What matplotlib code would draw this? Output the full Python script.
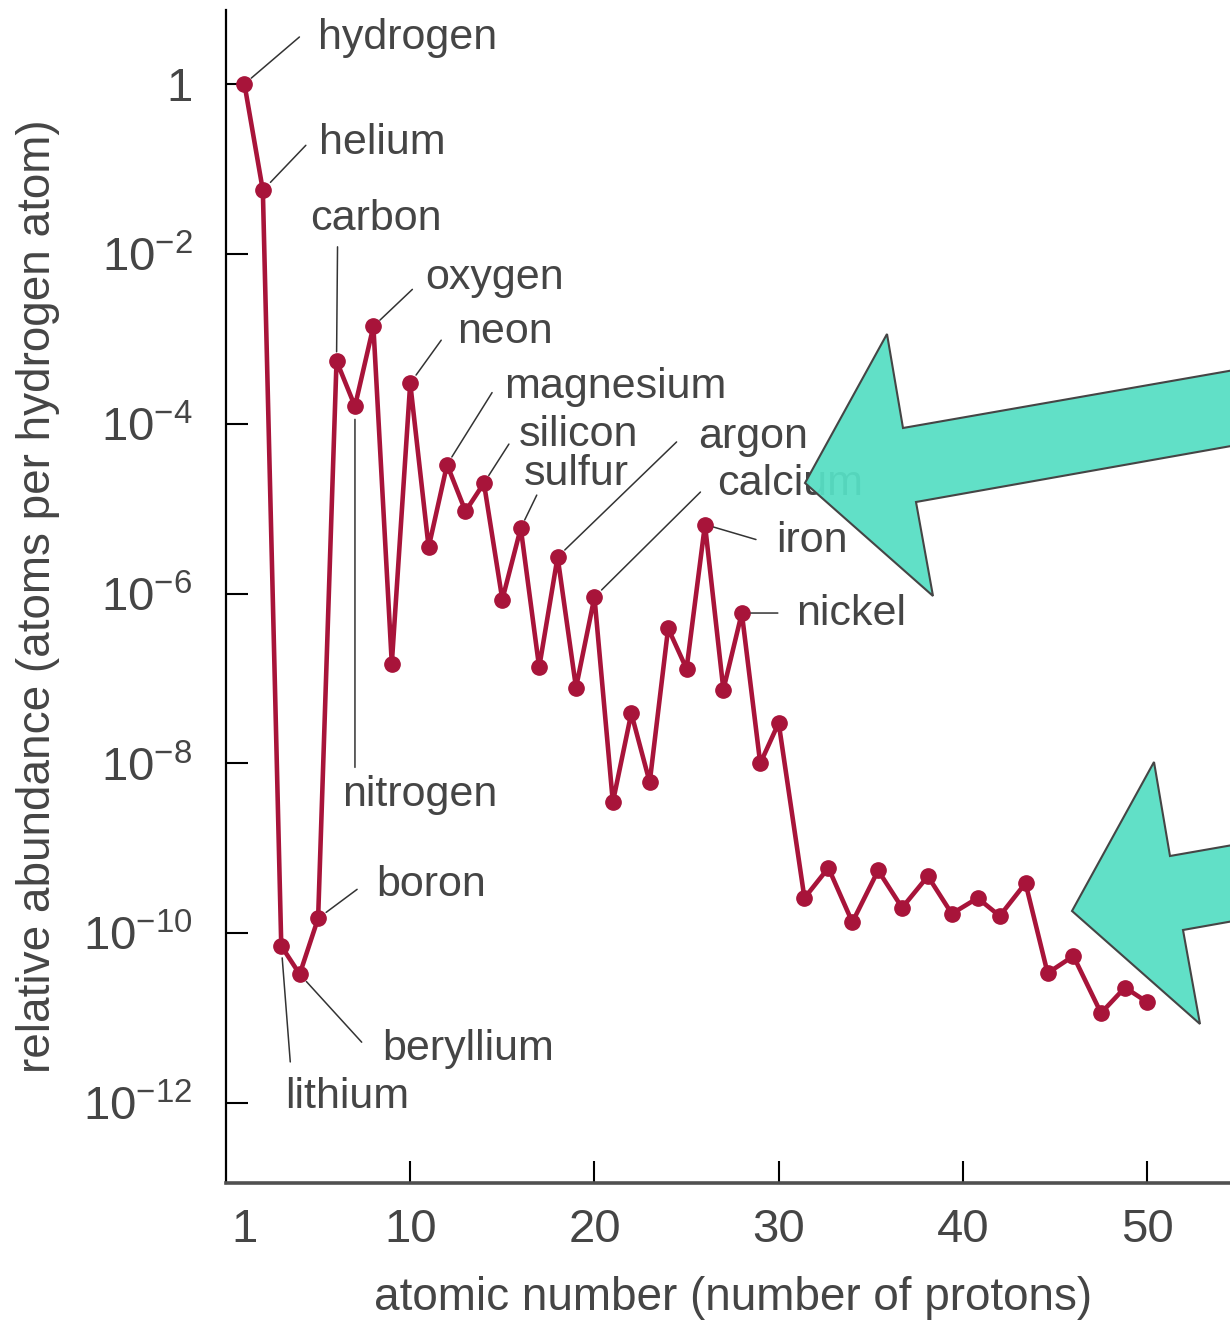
import matplotlib
matplotlib.use('Agg')
import matplotlib.pyplot as plt
from matplotlib.patches import Polygon
from matplotlib.ticker import NullLocator

plt.rcParams['font.family'] = ['Liberation Sans', 'DejaVu Sans']

# atomic number of each plotted point (past zinc the original spreads them out)
atomic_number = [1, 2, 3, 4, 5, 6, 7, 8, 9, 10,
                 11, 12, 13, 14, 15, 16, 17, 18, 19, 20,
                 21, 22, 23, 24, 25, 26, 27, 28, 29, 30,
                 31.4, 32.7, 34.0, 35.4, 36.7, 38.1, 39.4, 40.8,
                 42.0, 43.4, 44.6, 46.0, 47.5, 48.8, 50.0]

# relative abundance (atoms per hydrogen atom)
abundance = [1.0, 5.6e-2, 7.1e-11, 3.3e-11, 1.5e-10, 5.5e-4, 1.6e-4, 1.4e-3, 1.5e-7, 3.0e-4,
             3.5e-6, 3.3e-5, 9.3e-6, 2.0e-5, 8.5e-7, 5.9e-6, 1.35e-7, 2.7e-6, 7.8e-8, 9.1e-7,
             3.5e-9, 3.9e-8, 6.0e-9, 3.9e-7, 1.3e-7, 6.5e-6, 7.4e-8, 5.9e-7, 1.0e-8, 3.0e-8,
             2.6e-10, 5.9e-10, 1.35e-10, 5.5e-10, 2.0e-10, 4.7e-10, 1.7e-10, 2.6e-10,
             1.6e-10, 3.9e-10, 3.4e-11, 5.4e-11, 1.15e-11, 2.3e-11, 1.55e-11]

# named elements and the point each name belongs to
element_names = ['hydrogen', 'helium', 'lithium', 'beryllium', 'boron', 'carbon',
                 'nitrogen', 'oxygen', 'neon', 'magnesium', 'silicon', 'sulfur',
                 'argon', 'calcium', 'iron', 'nickel']
element_index = [0, 1, 2, 3, 4, 5, 6, 7, 9, 11, 13, 15, 17, 19, 25, 27]

x_ticks = [1, 10, 20, 30, 40, 50]
y_ticks = [1, 1e-2, 1e-4, 1e-6, 1e-8, 1e-10, 1e-12]
y_tick_labels = ['1', r'$\mathregular{10^{-2}}$', r'$\mathregular{10^{-4}}$',
                 r'$\mathregular{10^{-6}}$', r'$\mathregular{10^{-8}}$',
                 r'$\mathregular{10^{-10}}$', r'$\mathregular{10^{-12}}$']

# label layout in pixels relative to the point: text pos, leader end, gap, alignment
label_layout = {
    'hydrogen':  ((74, 35), (55, 47), 9, 'left'),
    'helium':    ((56, 36), (43, 45), 11, 'left'),
    'carbon':    ((39, 131), (1, 114), 9, 'center'),
    'oxygen':    ((52, 37), (39, 37), 9, 'left'),
    'neon':      ((47, 40), (31, 43), 10, 'left'),
    'magnesium': ((57, 67), (45, 72), 9, 'left'),
    'silicon':   ((35, 37), (25, 39), 9, 'left'),
    'sulfur':    ((3, 43), (16, 33), 9, 'left'),
    'argon':     ((141, 109), (119, 115), 10, 'left'),
    'calcium':   ((123, 102), (106, 105), 10, 'left'),
    'iron':      ((71, -27), (51, -15), 9, 'left'),
    'nickel':    ((54, -12), (36, 0), 9, 'left'),
    'nitrogen':  ((65, -400), (0, -361), 13, 'center'),
    'boron':     ((58, 22), (39, 29), 10, 'left'),
    'beryllium': ((83, -86), (62, -68), 10, 'left'),
    'lithium':   ((4, -162), (9, -116), 12, 'left'),
}

W, H = 1230, 1320
fig = plt.figure(figsize=(W / 100, H / 100), dpi=100)
ax = fig.add_axes([226 / W, 1 - 1183 / H, 1 - 226 / W, (1183 - 10) / H])

line_color = '#a8143a'
text_color = '#454545'

ax.plot(atomic_number, abundance, color=line_color, lw=3.3,
        marker='o', ms=11, mfc=line_color, mec=line_color, zorder=3)

ax.set_yscale('log')
ax.set_xlim(0, 54.5)
ax.set_ylim(10 ** -12.94, 10 ** 0.871)
ax.yaxis.set_minor_locator(NullLocator())
ax.set_xticks(x_ticks)
ax.set_xticklabels([str(t) for t in x_ticks])
ax.set_yticks(y_ticks)
ax.set_yticklabels(y_tick_labels)

ax.spines['top'].set_visible(False)
ax.spines['right'].set_visible(False)
ax.spines['left'].set_linewidth(1.6)
ax.spines['left'].set_color('black')
ax.spines['bottom'].set_linewidth(2.6)
ax.spines['bottom'].set_color('#505050')

ax.tick_params(direction='in', length=16, width=1.5, color='black',
               labelsize=34, labelcolor=text_color)
ax.tick_params(axis='y', pad=24)
ax.tick_params(axis='x', pad=18)
ax.xaxis.get_major_ticks()[0].tick1line.set_visible(False)

ax.set_xlabel('atomic number (number of protons)', fontsize=33, color=text_color)
ax.set_ylabel('relative abundance (atoms per hydrogen atom)', fontsize=33, color=text_color)
ax.xaxis.set_label_coords(0.505, -0.0793)
ax.yaxis.set_label_coords(-0.165, 0.5)

for name, i in zip(element_names, element_index):
    text_off, line_end, gap, ha = label_layout[name]
    pt = (atomic_number[i], abundance[i])
    ax.annotate('', xy=pt, xytext=line_end, textcoords='offset pixels',
                arrowprops=dict(arrowstyle='-', color='#333333', lw=1.1,
                                shrinkA=0, shrinkB=gap * 0.72))
    ax.annotate(name, xy=pt, xytext=text_off, textcoords='offset pixels',
                ha=ha, va='baseline', fontsize=31, color=text_color)

# the two teal pointer arrows laid over the chart (pixel outline, arrow 2 is arrow 1 shifted)
arrow_px = [(805, 483), (887, 334), (903, 428), (1400, 341),
            (1400, 416), (916, 502), (933, 596)]
for dx, dy in [(0, 0), (267, 428)]:
    verts = [((x + dx) / W, 1 - (y + dy) / H) for x, y in arrow_px]
    fig.patches.append(Polygon(verts, closed=True, transform=fig.transFigure,
                               facecolor=(0.34, 0.875, 0.77, 0.94),
                               edgecolor='#454545', lw=1.5, joinstyle='miter',
                               zorder=10))

fig.savefig('out.png', dpi=100)
